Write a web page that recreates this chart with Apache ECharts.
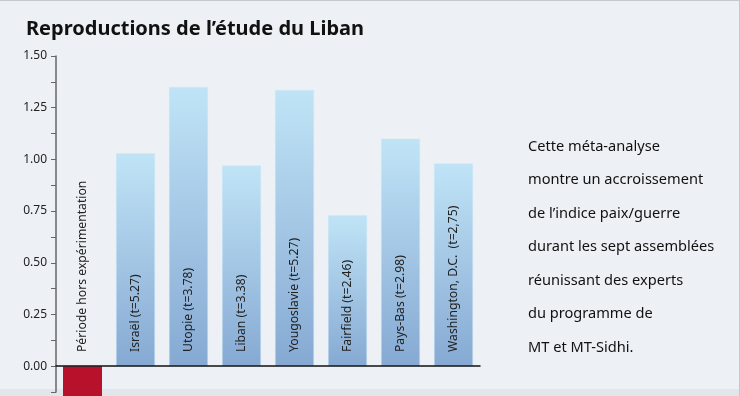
<!DOCTYPE html>
<html>
<head>
<meta charset="utf-8">
<script src="https://cdn.jsdelivr.net/npm/echarts@6/dist/echarts.min.js"></script>
<style>
	html, body { margin: 0; padding: 0; background: #edf1f5; }
	#chart { width: 740px; height: 396px; }
</style>
</head>
<body>
<div id="chart"></div>
<script>
	// données
	const categories = ['Période hors expérimentation', 'Israël (t=5.27)', 'Utopie (t=3.78)', 'Liban (t=3.38)',
		'Yougoslavie (t=5.27)', 'Fairfield (t=2.46)', 'Pays-Bas (t=2.98)', 'Washington, D.C.  (t=2,75)'];
	const values = [-0.15, 1.03, 1.35, 0.97, 1.335, 0.73, 1.10, 0.98];
	const tickLabels = ['0.00', '0.25', '0.50', '0.75', '1.00', '1.25', '1.50'];
	const noteLines = ['Cette méta-analyse', 'montre un accroissement', 'de l\u2019indice paix/guerre',
		'durant les sept assemblées', 'réunissant des experts', 'du programme de', 'MT et MT-Sidhi.'];

	const font = '"Noto Sans", "Open Sans", sans-serif';

	const blue = new echarts.graphic.LinearGradient(0, 0, 0, 1, [
		{ offset: 0, color: '#c0e4f6' },
		{ offset: 1, color: '#86a9d3' }
	]);

	const chart = echarts.init(document.getElementById('chart'));

	const option = {
		backgroundColor: '#edf1f5',
		animation: false,
		title: {
			text: 'Reproductions de l\u2019étude du Liban',
			left: 21,
			top: 14,
			textStyle: {
				fontFamily: font,
				fontSize: 20,
				fontWeight: 'bold',
				color: '#111'
			}
		},
		graphic: [{
			type: 'rect',
			left: 0, top: 0,
			shape: { width: 740, height: 1 },
			style: { fill: '#c5c9cf' }
		}, {
			type: 'rect',
			right: 0, top: 0,
			shape: { width: 1, height: 396 },
			style: { fill: '#c5c9cf' }
		}, {
			type: 'rect',
			left: 0, top: 389,
			z: -1,
			shape: { width: 740, height: 7 },
			style: { fill: '#e2e6ea' }
		}, {
			type: 'text',
			left: 528,
			top: 130,
			style: {
				text: noteLines.join('\n'),
				fontFamily: font,
				fontSize: 14.6,
				lineHeight: 33.5,
				fill: '#111'
			}
		}],
		grid: {
			left: 56,
			right: 260,
			top: 56,
			bottom: 4
		},
		xAxis: {
			type: 'category',
			data: categories,
			axisLine: {
				onZero: true,
				lineStyle: { color: '#111', width: 1.5 }
			},
			axisTick: { show: false },
			axisLabel: {
				inside: true,
				rotate: 90,
				margin: 40,
				interval: 0,
				align: 'left',
				verticalAlign: 'middle',
				fontFamily: font,
				fontSize: 12.2,
				color: '#222'
			},
			z: 10
		},
		yAxis: {
			type: 'value',
			min: -0.125,
			max: 1.5,
			interval: 0.125,
			axisLine: {
				show: true,
				lineStyle: { color: '#666', width: 1.5 }
			},
			axisTick: {
				show: true,
				length: 5,
				lineStyle: { color: '#666' }
			},
			axisLabel: {
				margin: 9,
				fontFamily: font,
				fontSize: 12,
				color: '#222',
				formatter: function (v) {
					const label = v.toFixed(2);
					return tickLabels.indexOf(label) >= 0 ? label : '';
				}
			},
			splitLine: { show: false }
		},
		series: [{
			type: 'bar',
			barWidth: 39,
			clip: false,
			data: values.map(function (v) {
				return {
					value: v,
					itemStyle: v < 0 ? { color: '#b8112b' } : { color: blue, borderColor: '#c8e8f8', borderWidth: 0.5 }
				};
			})
		}]
	};

	chart.setOption(option);
</script>
</body>
</html>
